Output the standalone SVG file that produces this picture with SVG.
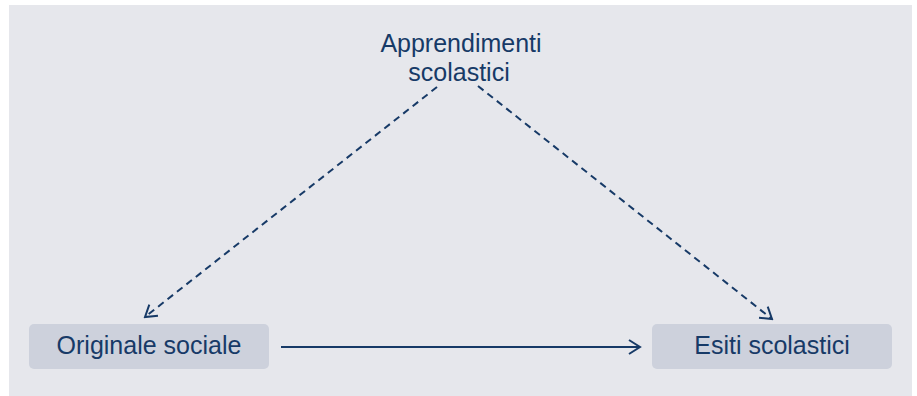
<svg xmlns="http://www.w3.org/2000/svg" width="917" height="396" viewBox="0 0 917 396">
<style>
.t{font-family:"Liberation Sans",Arial,sans-serif;font-size:25px;fill:#173a67;text-anchor:middle}
.box{fill:#cdd1dc}
.ln{stroke:#173a67;stroke-width:2;fill:none}
.dash{stroke-dasharray:7 5}
</style>
<defs>
<marker id="ah" viewBox="0 0 14 16" refX="12.5" refY="8" markerWidth="14" markerHeight="16" markerUnits="userSpaceOnUse" orient="auto">
<path d="M1.5,1 L12.5,8 L1.5,15" fill="none" stroke="#173a67" stroke-width="2"/>
</marker>
</defs>
<rect x="9" y="5" width="903" height="391" fill="#e6e7ec"/>
<g id="connectors">
<line class="ln" x1="281" y1="347" x2="640" y2="347" marker-end="url(#ah)"/>
<line class="ln dash" x1="437" y1="87" x2="145" y2="317" marker-end="url(#ah)"/>
<line class="ln dash" x1="478" y1="86" x2="772" y2="319" marker-end="url(#ah)"/>
</g>
<g id="node-apprendimenti">
<text class="t" x="461" y="52">Apprendimenti</text>
<text class="t" x="459" y="81">scolastici</text>
</g>
<g id="node-originale">
<rect class="box" x="29" y="324" width="240" height="45" rx="5"/>
<text class="t" x="149" y="354">Originale sociale</text>
</g>
<g id="node-esiti">
<rect class="box" x="652" y="324" width="240" height="45" rx="5"/>
<text class="t" x="772" y="354">Esiti scolastici</text>
</g>
</svg>
